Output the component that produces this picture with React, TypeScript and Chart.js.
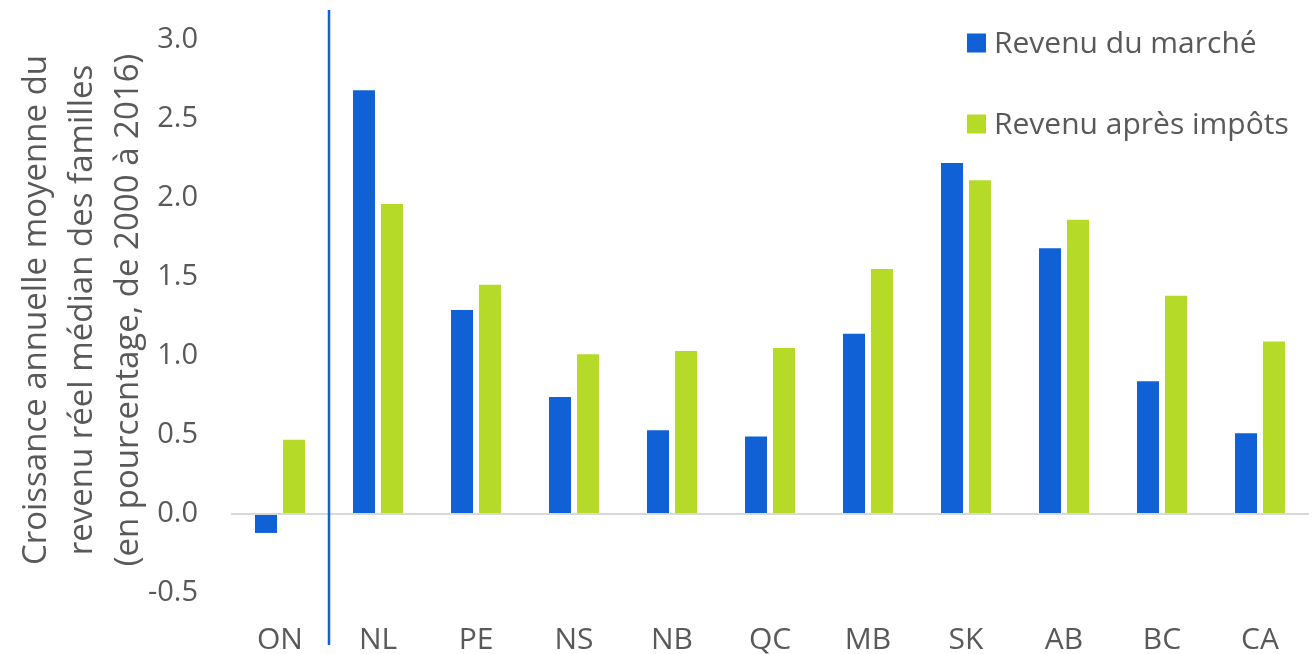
import React, { useEffect, useRef } from "react";
import { Chart, registerables } from "chart.js";

Chart.register(...registerables);

const categories = ["ON", "NL", "PE", "NS", "NB", "QC", "MB", "SK", "AB", "BC", "CA"];
const marketIncome = [-0.12, 2.68, 1.29, 0.74, 0.53, 0.49, 1.14, 2.22, 1.68, 0.84, 0.51];
const afterTaxIncome = [0.47, 1.96, 1.45, 1.01, 1.03, 1.05, 1.55, 2.11, 1.86, 1.38, 1.09];
const yTicks = [-0.5, 0, 0.5, 1.0, 1.5, 2.0, 2.5, 3.0];
const seriesLabels = ["Revenu du marché", "Revenu après impôts"];
const yTitle = [
  "Croissance annuelle moyenne du",
  "revenu réel médian des familles",
  "(en pourcentage, de 2000 à 2016)",
];

const BLUE = "#1060D6";
const GREEN = "#B5DA28";
const TEXT = "#595959";
const FONT = "'Open Sans', 'Noto Sans', sans-serif";

const overlayPlugin = {
  id: "overlay",
  afterDraw(chart: any) {
    const { ctx, chartArea } = chart;
    const x = chart.scales.x;
    const sepX = (x.getPixelForValue(0) + x.getPixelForValue(1)) / 2;
    ctx.save();
    ctx.strokeStyle = BLUE;
    ctx.lineWidth = 2.5;
    ctx.beginPath();
    ctx.moveTo(sepX, chartArea.top + 2);
    ctx.lineTo(sepX, chart.height - 9);
    ctx.stroke();

    // legend
    const lx = 967;
    const ys = [43, 124];
    ctx.font = `30px ${FONT}`;
    ctx.textBaseline = "middle";
    ctx.textAlign = "left";
    chart.data.datasets.forEach((ds: any, i: number) => {
      ctx.fillStyle = ds.backgroundColor;
      ctx.fillRect(lx, ys[i] - 9.5, 19, 19);
      ctx.fillStyle = TEXT;
      ctx.fillText(ds.label, lx + 27, ys[i] + 1);
    });
    ctx.restore();
  },
};

export default function App() {
  const ref = useRef<HTMLCanvasElement>(null);
  useEffect(() => {
    const chart = new Chart(ref.current!, {
      type: "bar",
      data: {
        labels: categories,
        datasets: [
          {
            label: seriesLabels[0],
            data: marketIncome,
            backgroundColor: BLUE,
            barPercentage: 0.786,
            categoryPercentage: 0.571,
          },
          {
            label: seriesLabels[1],
            data: afterTaxIncome,
            backgroundColor: GREEN,
            barPercentage: 0.786,
            categoryPercentage: 0.571,
          },
        ],
      },
      options: {
        responsive: false,
        animation: false,
        layout: { padding: { top: 8, right: 5, left: 0, bottom: 0 } },
        plugins: { legend: { display: false }, tooltip: { enabled: false } },
        scales: {
          x: {
            grid: { display: false },
            border: { display: false },
            ticks: { color: TEXT, font: { family: FONT, size: 30 }, padding: 2 },
            afterFit: (s: any) => {
              s.height = 42;
              s.paddingLeft = 0;
              s.paddingRight = 0;
            },
          },
          y: {
            min: -0.62,
            max: 3.2,
            afterBuildTicks: (s: any) => {
              s.ticks = yTicks.map((v) => ({ value: v }));
            },
            afterFit: (s: any) => {
              s.width = 231;
              s.paddingTop = 0;
              s.paddingBottom = 0;
            },
            border: { display: false },
            grid: {
              drawTicks: false,
              color: (c: any) => (c.tick && c.tick.value === 0 ? "#D9D9D9" : "rgba(0,0,0,0)"),
              lineWidth: 2,
            },
            ticks: {
              color: TEXT,
              font: { family: FONT, size: 29 },
              padding: 33,
              callback: (v: any) => Number(v).toFixed(1),
            },
            title: {
              display: true,
              text: yTitle,
              color: TEXT,
              font: { family: FONT, size: 33, lineHeight: 46 / 33 },
              padding: { top: 14, bottom: 0 },
            },
          },
        },
      },
      plugins: [overlayPlugin],
    });
    return () => chart.destroy();
  }, []);
  return (
    <div style={{ position: "absolute", left: 0, top: 0, width: 1314, height: 654, background: "#fff" }}>
      <canvas ref={ref} width={1314} height={654} />
    </div>
  );
}
